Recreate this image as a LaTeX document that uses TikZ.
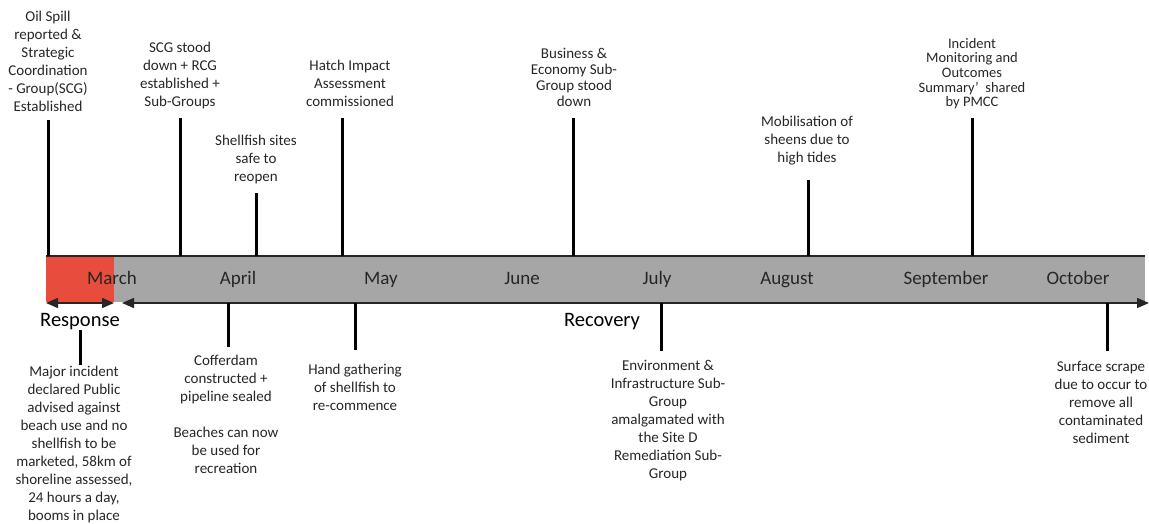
\documentclass[tikz,border=0pt]{standalone}
\usepackage{fontspec}
\setmainfont{Carlito}
\usetikzlibrary{arrows.meta}
\definecolor{spill}{HTML}{E74C3C}
\definecolor{bargray}{HTML}{A6A6A6}
\definecolor{txt}{HTML}{262626}
\tikzset{
  ev/.style={inner sep=0pt, align=center, text=txt, font=\fontsize{15}{18}\selectfont},
  evtight/.style={inner sep=0pt, align=center, text=txt, font=\fontsize{15}{16}\selectfont},
  evsmall/.style={inner sep=0pt, align=center, text=txt, font=\fontsize{14.5}{14.6}\selectfont},
  month/.style={inner sep=0pt, anchor=base, text=txt, font=\fontsize{19}{22}\selectfont},
  phase/.style={inner sep=0pt, anchor=base, text=black, font=\fontsize{20.5}{24}\selectfont},
  tick/.style={line width=3pt, black},
  bispan/.style={line width=1.5pt, draw=txt, {Triangle[length=12pt,width=10pt]}-{Triangle[length=12pt,width=10pt]}},
}
\begin{document}
\begin{tikzpicture}[x=1pt,y=-1pt]
\useasboundingbox (0,0) rectangle (1149,524);
% bar
\fill[bargray] (114,256) rectangle (1145,302);
\fill[spill] (46,256) rectangle (114,302);
\coordinate (bl) at (46,256);
\coordinate (br) at (1145,256);
\draw[line width=1.5pt, txt] (bl) -- (br);
\coordinate (rs) at (46,303);
\coordinate (re) at (114,303);
\coordinate (vs) at (122,303);
\coordinate (ve) at (1149,303);
\draw[bispan] (rs) -- (re);
\draw[bispan] (vs) -- (ve);
% months
\node[month] (m3) at (112,284) {March};
\node[month] (m4) at (238,284) {April};
\node[month] (m5) at (381,284) {May};
\node[month] (m6) at (522,284) {June};
\node[month] (m7) at (657,284) {July};
\node[month] (m8) at (787,284) {August};
\node[month] (m9) at (946,284) {September};
\node[month] (m10) at (1078,284) {October};
% phases
\node[phase] (resp) at (80,326) {Response};
\node[phase] (reco) at (602,326) {Recovery};
% upper events
\node[ev, anchor=north] (e1) at (48,11) {Oil Spill\\reported \&\\Strategic\\Coordination\\- Group(SCG)\\Established};
\node[ev, anchor=north] (e2) at (180,42) {SCG stood\\down + RCG\\established +\\Sub-Groups};
\node[ev, anchor=north] (e3) at (256,135) {Shellfish sites\\safe to\\reopen};
\node[ev, anchor=north] (e4) at (350,60) {Hatch Impact\\Assessment\\commissioned};
\node[evtight, anchor=north] (e5) at (574,48) {Business \&\\Economy Sub-\\Group stood\\down};
\node[ev, anchor=north] (e6) at (807,116) {Mobilisation of\\sheens due to\\high tides};
\node[evsmall, anchor=north] (e7) at (972,38) {Incident\\Monitoring and\\Outcomes\\Summary'\ \ shared\\by PMCC};
\coordinate (t1a) at (48,256);  \coordinate (t1b) at (48,120);
\coordinate (t2a) at (180,256); \coordinate (t2b) at (180,118);
\coordinate (t3a) at (256,256); \coordinate (t3b) at (256,193);
\coordinate (t4a) at (342,256); \coordinate (t4b) at (342,118);
\coordinate (t5a) at (573,256); \coordinate (t5b) at (573,118);
\coordinate (t6a) at (808,256); \coordinate (t6b) at (808,180);
\coordinate (t7a) at (972,256); \coordinate (t7b) at (972,118);
\foreach \i in {1,...,7} {\draw[tick] (t\i a) -- (t\i b);}
% lower events
\node[ev, anchor=north] (l1) at (74,366) {Major incident\\declared Public\\advised against\\beach use and no\\shellfish to be\\marketed, 58km of\\shoreline assessed,\\24 hours a day,\\booms in place};
\node[ev, anchor=north] (l2) at (226,355) {Cofferdam\\constructed +\\pipeline sealed\\[18pt]Beaches can now\\be used for\\recreation};
\node[ev, anchor=north] (l3) at (355,364) {Hand gathering\\of shellfish to\\re-commence};
\node[ev, anchor=north] (l4) at (668,360) {Environment \&\\Infrastructure Sub-\\Group\\amalgamated with\\the Site D\\Remediation Sub-\\Group};
\node[ev, anchor=north] (l5) at (1101,361) {Surface scrape\\due to occur to\\remove all\\contaminated\\sediment};
\coordinate (b1a) at (80,330);  \coordinate (b1b) at (80,365);
\coordinate (b2a) at (228,303); \coordinate (b2b) at (228,347);
\coordinate (b3a) at (355,303); \coordinate (b3b) at (355,350);
\coordinate (b4a) at (661,303); \coordinate (b4b) at (661,351);
\coordinate (b5a) at (1107,303); \coordinate (b5b) at (1107,351);
\foreach \i in {1,...,5} {\draw[tick] (b\i a) -- (b\i b);}
\end{tikzpicture}
\end{document}
